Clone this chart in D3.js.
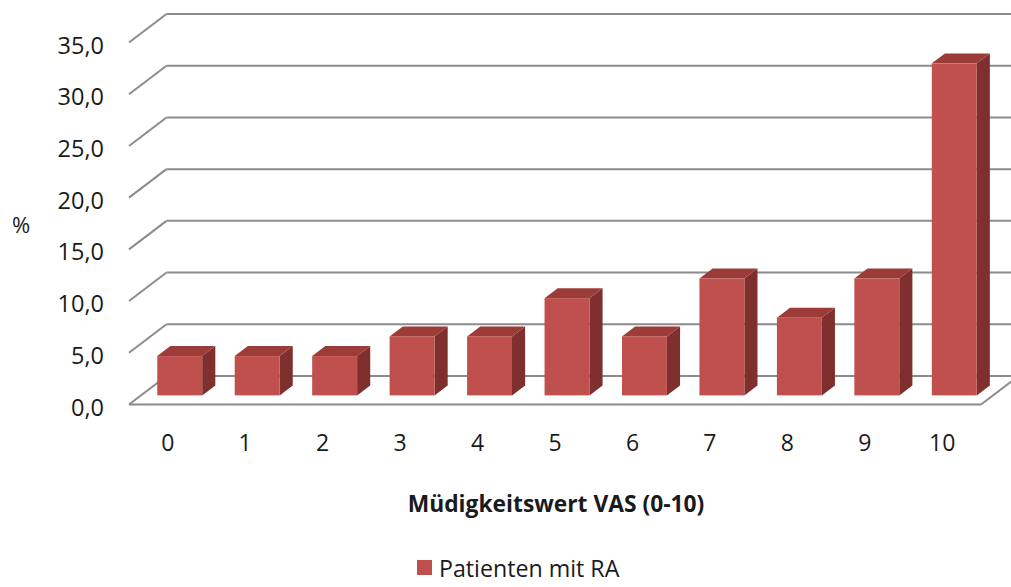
<!DOCTYPE html>
<html>
<head>
<meta charset="utf-8">
<script src="https://cdn.jsdelivr.net/npm/d3@7"></script>
<style>
  html, body { margin: 0; padding: 0; background: #fff; }
  svg { display: block; }
  text { font-family: "Open Sans", "Noto Sans", sans-serif; fill: #1a1a1a; }
</style>
</head>
<body>
<svg id="chart" width="1011" height="587"></svg>
<script>
// Fatigue score (VAS 0-10) distribution, share of patients in %
const categories = ["0", "1", "2", "3", "4", "5", "6", "7", "8", "9", "10"];
const values = [3.8, 3.8, 3.8, 5.7, 5.7, 9.4, 5.7, 11.3, 7.5, 11.3, 32.1];
const yTicks = [0, 5, 10, 15, 20, 25, 30, 35];
const seriesName = "Patienten mit RA";
const xTitle = "Müdigkeitswert VAS (0-10)";
const yTitle = "%";

const svg = d3.select("#chart");

// Front plane of the 3D box
const x = d3.scaleBand().domain(categories).range([129, 981]).paddingInner(0).paddingOuter(0);
const y = d3.scaleLinear().domain([0, 35]).range([404.5, 42.5]);

// Oblique depth offset: fraction of the box depth -> pixel shift
const depthX = 37.5, depthY = -28.5;
const off = f => [depthX * f, depthY * f];

const grid = "#8c8c8c";
const x0 = x.range()[0], x1 = x.range()[1];
const [bdx, bdy] = off(1);

// Back wall gridlines and side-wall diagonals
const g = svg.append("g");
yTicks.forEach(v => {
  g.append("line")
    .attr("x1", x0).attr("y1", y(v))
    .attr("x2", x0 + bdx).attr("y2", y(v) + bdy)
    .attr("stroke", grid).attr("stroke-width", 2);
  g.append("line")
    .attr("x1", x0 + bdx).attr("y1", y(v) + bdy)
    .attr("x2", x1 + bdx).attr("y2", y(v) + bdy)
    .attr("stroke", grid).attr("stroke-width", 2);
});
// Floor right edge
g.append("line")
  .attr("x1", x1).attr("y1", y(0))
  .attr("x2", x1 + bdx).attr("y2", y(0) + bdy)
  .attr("stroke", grid).attr("stroke-width", 2);

// 3D columns
const fFront = 0.32, fDepth = 0.35;
const barW = x.bandwidth() * 0.58;
const [fdx, fdy] = off(fFront);
const [ddx, ddy] = off(fDepth);

const bars = svg.append("g").selectAll("g").data(categories.map((c, i) => ({ c, v: values[i] })))
  .join("g");

bars.each(function (d) {
  const b = d3.select(this);
  const left = x(d.c) + (x.bandwidth() - barW) / 2 + fdx;
  const right = left + barW;
  const bottom = y(0) + fdy;
  const top = y(d.v) + fdy;
  // side face
  b.append("path")
    .attr("d", `M${right},${top} L${right + ddx},${top + ddy} L${right + ddx},${bottom + ddy} L${right},${bottom} Z`)
    .attr("fill", "#7f302e");
  // top face
  b.append("path")
    .attr("d", `M${left},${top} L${left + ddx},${top + ddy} L${right + ddx},${top + ddy} L${right},${top} Z`)
    .attr("fill", "#9b3c39");
  // front face
  b.append("rect")
    .attr("x", left).attr("y", top)
    .attr("width", barW).attr("height", bottom - top)
    .attr("fill", "#c0504d");
});

// Floor front edge (in front of the columns)
svg.append("line")
  .attr("x1", x0).attr("y1", y(0))
  .attr("x2", x1).attr("y2", y(0))
  .attr("stroke", grid).attr("stroke-width", 2);

// Value axis with decimal comma
const de = d3.formatLocale({ decimal: ",", thousands: ".", grouping: [3], currency: ["", " €"] });
const yAxis = d3.axisLeft(y).tickValues(yTicks).tickFormat(de.format(".1f")).tickSize(0).tickPadding(0);
const ya = svg.append("g").attr("transform", "translate(104,3)").call(yAxis);
ya.select(".domain").remove();
ya.selectAll("text").style("font-size", "23.5px").style("font-family", "'Open Sans', sans-serif").attr("fill", "#1a1a1a");

// Category axis
const xAxis = d3.axisBottom(x).tickSize(0).tickPadding(0);
const xa = svg.append("g").attr("transform", "translate(0,435)").call(xAxis);
xa.select(".domain").remove();
xa.selectAll("text").style("font-size", "23px").style("font-family", "'Open Sans', sans-serif").attr("fill", "#1a1a1a");

// Titles
svg.append("text")
  .attr("x", 21).attr("y", 224)
  .attr("text-anchor", "middle").attr("dominant-baseline", "central")
  .style("font-size", "22px")
  .text(yTitle);

svg.append("text")
  .attr("x", 556).attr("y", 503)
  .attr("text-anchor", "middle").attr("dominant-baseline", "central")
  .style("font-size", "22.8px").style("font-weight", "bold")
  .text(xTitle);

// Legend
const lg = svg.append("g");
lg.append("rect").attr("x", 417).attr("y", 560).attr("width", 15).attr("height", 15).attr("fill", "#c0504d");
lg.append("text").attr("x", 439).attr("y", 568)
  .attr("dominant-baseline", "central")
  .style("font-size", "23.2px")
  .text(seriesName);
</script>
</body>
</html>
